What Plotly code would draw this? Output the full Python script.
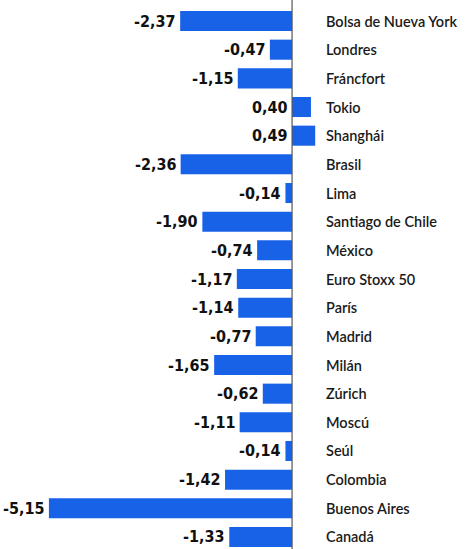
import plotly.graph_objects as go

categories = ["Bolsa de Nueva York", "Londres", "Fráncfort", "Tokio", "Shanghái",
              "Brasil", "Lima", "Santiago de Chile", "México", "Euro Stoxx 50",
              "París", "Madrid", "Milán", "Zúrich", "Moscú", "Seúl", "Colombia",
              "Buenos Aires", "Canadá"]
values = [-2.37, -0.47, -1.15, 0.40, 0.49, -2.36, -0.14, -1.90, -0.74, -1.17,
          -1.14, -0.77, -1.65, -0.62, -1.11, -0.14, -1.42, -5.15, -1.33]

def fmt(v):
    return f"{v:.2f}".replace(".", ",")

idx = list(range(len(categories)))
fig = go.Figure(go.Bar(
    x=values, y=idx, orientation="h", width=0.70,
    marker=dict(color="#1862e8", line=dict(width=0)),
    hoverinfo="skip",
))

ann = []
for i, (c, v) in enumerate(zip(categories, values)):
    ann.append(dict(x=min(v, 0), y=i, xref="x", yref="y", text=fmt(v),
                    showarrow=False, xanchor="right", yanchor="middle", xshift=-2, yshift=0,
                    font=dict(family="DejaVu Sans Condensed",
                              size=16, color="#111111", weight="bold")))
    ann.append(dict(x=0, y=i, xref="x", yref="y", text=c, showarrow=False,
                    xanchor="left", yanchor="middle", xshift=32, yshift=0,
                    font=dict(family="Lato, Noto Sans", size=14.5, color="#1a1a1a", weight=600)))

fig.add_shape(type="line", x0=0, x1=0, y0=0, y1=1, xref="x", yref="paper",
              line=dict(color="#555555", width=1.2))

fig.update_layout(
    width=471, height=549, margin=dict(l=0, r=0, t=0, b=0),
    paper_bgcolor="white", plot_bgcolor="white", showlegend=False,
    xaxis=dict(range=[-6.186, 3.79], visible=False, fixedrange=True),
    yaxis=dict(range=[18.419, -0.733], visible=False, fixedrange=True),
    annotations=ann,
)
fig.write_html("out.html", config={"displayModeBar": False},
               post_script="document.body.style.margin='0';")
